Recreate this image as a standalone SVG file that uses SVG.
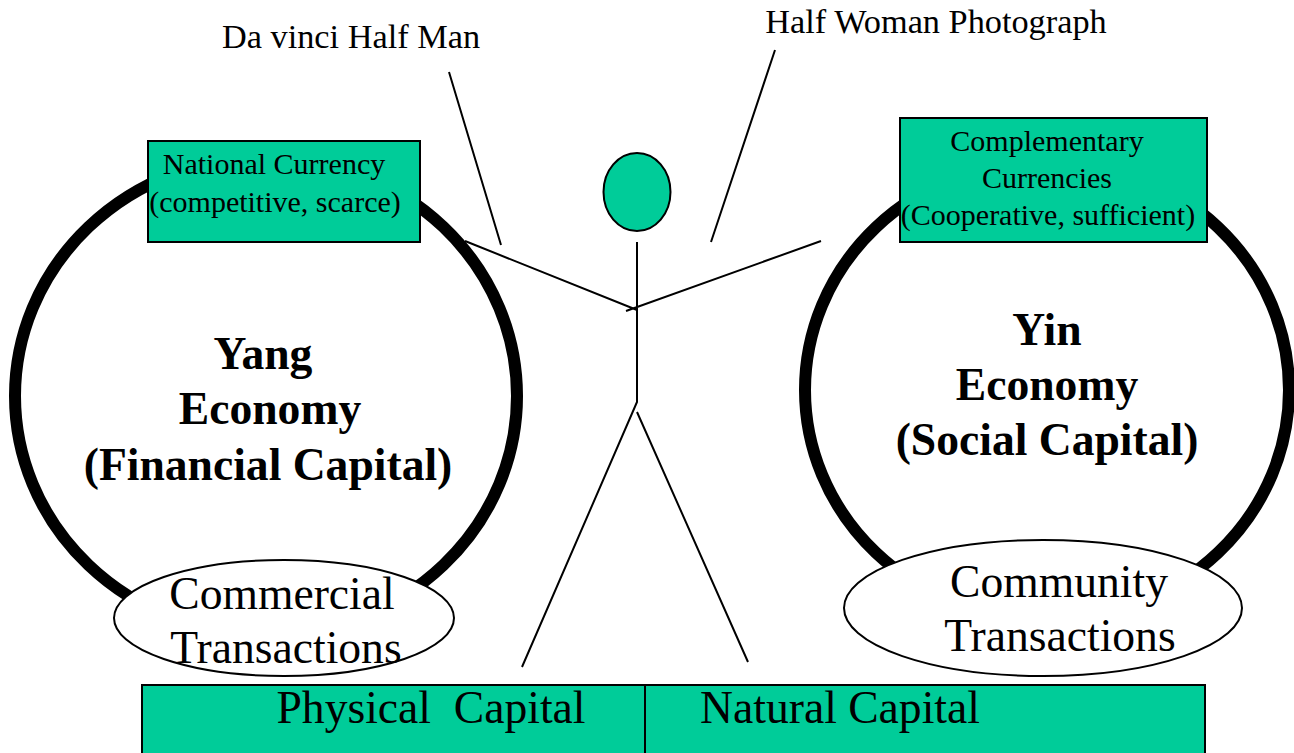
<svg xmlns="http://www.w3.org/2000/svg" width="1294" height="753" viewBox="0 0 1294 753">
<style>
text{font-family:"Liberation Serif","Times New Roman",serif;fill:#000;text-anchor:middle;white-space:pre}
.g{fill:#00cc99;stroke:#000;stroke-width:2}
.w{fill:#fff;stroke:#000;stroke-width:2}
.ring{fill:none;stroke:#000;stroke-width:12}
.l{stroke:#000;stroke-width:2;fill:none}
.t30{font-size:30px}.t46{font-size:45.6px}.b46{font-size:45.6px;font-weight:bold}.t34{font-size:34.3px}
</style>
<rect width="1294" height="753" fill="#fff"/>
<g id="yang-circle"><ellipse class="ring" cx="266" cy="396" rx="251" ry="239"/></g>
<g id="yin-circle"><ellipse class="ring" cx="1047" cy="390" rx="242" ry="230"/></g>
<g id="connectors">
<path class="l" d="M449 72L501 245M775 50L711 242M465 241L637 310M821 241L626 311M637 242V402L522 667M637 412L748 662"/>
</g>
<g id="head"><ellipse class="g" cx="637" cy="192" rx="33.500" ry="39"/></g>
<g id="national-currency"><rect class="g" x="148" y="141" width="272" height="101"/>
<text class="t30" x="274" y="174">National Currency</text><text class="t30" x="275" y="212">(competitive, scarce)</text></g>
<g id="complementary"><rect class="g" x="900" y="118" width="307" height="124"/>
<text class="t30" x="1047" y="151">Complementary</text><text class="t30" x="1047" y="188">Currencies</text><text class="t30" x="1048" y="225">(Cooperative, sufficient)</text></g>
<g id="yang-label"><text class="b46" x="263" y="369">Yang</text><text class="b46" x="270" y="424">Economy</text><text class="b46" x="268" y="480">(Financial Capital)</text></g>
<g id="yin-label"><text class="b46" x="1047" y="345">Yin</text><text class="b46" x="1047" y="400">Economy</text><text class="b46" x="1047" y="455">(Social Capital)</text></g>
<g id="commercial"><ellipse class="w" cx="284" cy="618" rx="170" ry="58"/>
<text class="t46" x="282" y="609">Commercial</text><text class="t46" x="286" y="663">Transactions</text></g>
<g id="community"><ellipse class="w" cx="1043" cy="608" rx="199" ry="68"/>
<text class="t46" x="1059" y="597">Community</text><text class="t46" x="1060" y="651">Transactions</text></g>
<g id="capital"><rect class="g" x="142" y="685" width="1063" height="80"/><path class="l" d="M645 685V753"/>
<text class="t46" x="431" y="723">Physical  Capital</text><text class="t46" x="840" y="723">Natural Capital</text></g>
<g id="captions"><text class="t34" x="351" y="48">Da vinci Half Man</text><text class="t34" x="936" y="33">Half Woman Photograph</text></g>
</svg>
